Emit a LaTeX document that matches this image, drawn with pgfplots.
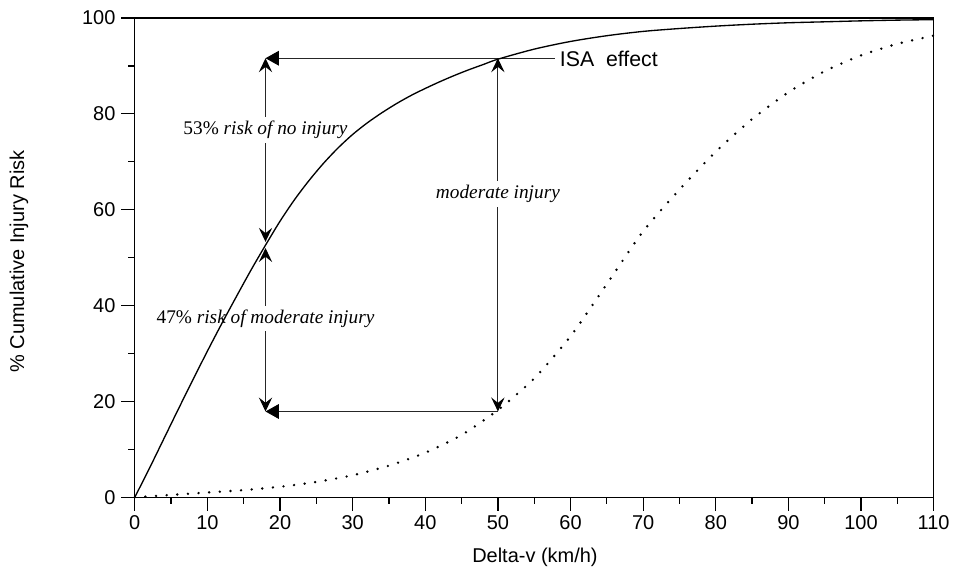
\documentclass[border=0pt]{standalone}
\usepackage{fontspec}
\setmainfont{Liberation Sans}
\newfontfamily\annfont{Liberation Serif}
\usepackage{pgfplots}
\pgfplotsset{compat=1.18}
\usetikzlibrary{arrows.meta}

% cumulative risk curves: moderate injury (solid) and the shifted curve (dotted)
\pgfplotstableread{
x y
0 0
2 6.0
4 12.2
6 18.4
8 24.5
10 30.5
12 36.3
14 41.9
16 47.4
18 52.6
20 57.6
22 62.1
24 66.1
26 69.7
28 72.9
30 75.7
32 78.1
34 80.2
36 82.1
38 83.8
40 85.3
42 86.7
44 88.0
46 89.2
48 90.3
50 91.4
55 93.5
60 95.1
65 96.3
70 97.2
75 97.8
80 98.3
85 98.7
90 99.0
95 99.2
100 99.4
105 99.55
110 99.65
}\solidcurve

\pgfplotstableread{
x y
0 0
5 0.5
10 1.0
15 1.5
20 2.2
25 3.2
30 4.6
35 6.6
40 9.3
45 13.0
50 18.2
55 24.8
60 33.6
65 44.5
70 55.5
75 64.2
80 72.1
85 78.9
90 84.5
95 88.9
100 92.2
105 94.6
110 96.3
}\dottedcurve

\tikzset{
  ann/.style={black!85, line width=0.75pt},
  dbl/.style={ann, {Stealth[length=10.5pt,width=10pt,inset=4pt,black]}-{Stealth[length=10.5pt,width=10pt,inset=4pt,black]}},
  hl/.style={ann, -{Triangle[length=10pt,width=11pt,black]}},
  annlabel/.style={fill=white, inner xsep=1pt, inner ysep=3pt, font=\annfont\fontsize{14.5}{16}\selectfont},
}

\begin{document}
\begin{tikzpicture}
\begin{axis}[
  scale only axis, width=600pt, height=360pt,
  xmin=0, xmax=110, ymin=0, ymax=100,
  xtick={0,10,...,110}, ytick={0,20,...,100},
  minor x tick num=1, minor y tick num=1,
  tick pos=left, tick align=outside,
  major tick length=10pt, minor tick length=5pt,
  every tick/.style={black, line width=0.9pt},
  axis line style={line width=1pt},
  every tick label/.append style={font=\fontsize{15}{18}\selectfont},
  xticklabel style={font=\fontsize{15}{18}\selectfont},
  yticklabel style={font=\fontsize{15}{18}\selectfont, xshift=-1pt},
  /pgf/number format/assume math mode=true,
  clip=false,
]
% page extent
\path (axis cs:-18.56,-15.42) rectangle (axis cs:112.6,103.75);

% annotations
\draw[hl] (axis cs:57.8,91.6) -- (axis cs:18,91.6);
\draw[dbl] (axis cs:18,53.3) -- (axis cs:18,91.6);
\draw[dbl] (axis cs:18,17.9) -- (axis cs:18,52.0);
\draw[hl] (axis cs:50,17.9) -- (axis cs:18,17.9);
\draw[dbl] (axis cs:50,17.9) -- (axis cs:50,91.6);
\node[annlabel] at (axis cs:18,76.6) {53\% \textit{risk of no injury}};
\node[annlabel] at (axis cs:18,37.3) {47\% \textit{risk of moderate injury}};
\node[annlabel] at (axis cs:50,63.3) {\textit{moderate injury}};
\node[anchor=west, inner sep=0pt, font=\fontsize{16}{19}\selectfont] at (axis cs:58.5,91.4) {ISA\ \ effect};

% curves
\addplot[black, line width=1pt, smooth, tension=0.5] table[x=x,y=y] {\solidcurve};
\addplot[black, line width=2pt, line cap=round, dash pattern=on 0pt off 8pt, smooth, tension=0.4] table[x=x,y=y] {\dottedcurve};

% axis titles
\node[rotate=90, font=\fontsize{15}{18}\selectfont] at (axis cs:-15.95,49.2) {\% Cumulative Injury Risk};
\node[font=\fontsize{15}{18}\selectfont] at (axis cs:55.1,-12.6) {Delta-v (km/h)};
\end{axis}
\end{tikzpicture}
\end{document}
